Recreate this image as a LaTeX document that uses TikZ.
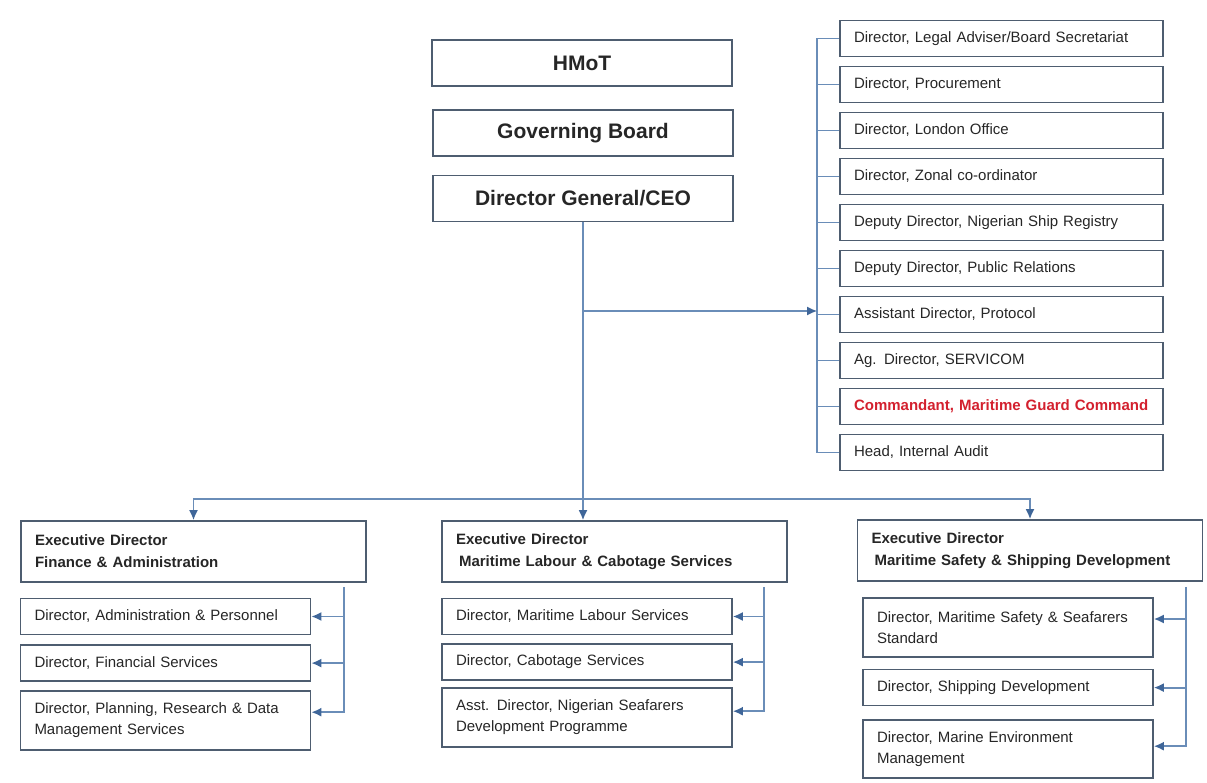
\documentclass[tikz,border=0pt]{standalone}
\usepackage{fontspec}
\setmainfont{Liberation Sans}
\usetikzlibrary{positioning,arrows.meta}
\definecolor{boxedge}{HTML}{4E5D70}
\definecolor{linkblue}{HTML}{6A8DB8}
\definecolor{tipblue}{HTML}{3F6699}
\definecolor{ink}{HTML}{262626}
\definecolor{alertred}{HTML}{D3202E}

\begin{document}
\begin{tikzpicture}[x=1pt, y=-1pt,
			topbox/.style={rectangle, draw=boxedge, line width=1.6pt, minimum width=300pt, minimum height=46pt, text=ink, font=\fontsize{21}{25}\selectfont\bfseries},
			sidebox/.style={rectangle, draw=boxedge, line width=1.6pt, text width=295pt, inner xsep=14pt, inner ysep=0pt, minimum height=36pt, align=left, text=ink, font=\fontsize{15}{21}\selectfont},
			headbox/.style={sidebox, text width=317pt, minimum height=61pt, font=\fontsize{15}{22}\selectfont\bfseries},
			subbox/.style={sidebox, text width=262pt},
			link/.style={draw=linkblue, line width=1.8pt},
			arrowed/.style={-{Latex[length=10pt, width=9pt, color=tipblue]}}]
			\useasboundingbox (0,0) rectangle (1207,783);
			% top of the chart
			\node[topbox] (hmot) at (582,63) {HMoT};
			\node[topbox] (board) at (583,133) {Governing Board};
			\node[topbox] (dg) at (583,198.5) {Director General/CEO};
			% units reporting straight to the DG
			\node[sidebox] (legal) at (1001.5,38.5) {Director, Legal Adviser/Board Secretariat};
			\node[sidebox] (procure) [below=8.4pt of legal] {Director, Procurement};
			\node[sidebox] (london) [below=8.4pt of procure] {Director, London Office};
			\node[sidebox] (zonal) [below=8.4pt of london] {Director, Zonal co-ordinator};
			\node[sidebox] (registry) [below=8.4pt of zonal] {Deputy Director, Nigerian Ship Registry};
			\node[sidebox] (pr) [below=8.4pt of registry] {Deputy Director, Public Relations};
			\node[sidebox] (protocol) [below=8.4pt of pr] {Assistant Director, Protocol};
			\node[sidebox] (servicom) [below=8.4pt of protocol] {Ag. Director, SERVICOM};
			\node[sidebox, text=alertred, font=\fontsize{15}{21}\selectfont\bfseries] (guard) [below=8.4pt of servicom] {Commandant, Maritime Guard Command};
			\node[sidebox] (audit) [below=8.4pt of guard] {Head, Internal Audit};
			% executive directors
			\node[headbox] (fa) at (193.5,551.5) {Executive Director\\Finance \& Administration};
			\node[headbox] (ml) at (614.5,551.5) {Executive Director\\\hspace{3pt}Maritime Labour \& Cabotage Services};
			\node[headbox] (ms) at (1030,550.5) {Executive Director\\\hspace{3pt}Maritime Safety \& Shipping Development};
			% directorates
			\node[subbox] (fa1) at (165.5,616.5) {Director, Administration \& Personnel};
			\node[subbox] (fa2) [below=9pt of fa1] {Director, Financial Services};
			\node[subbox, minimum height=59pt] (fa3) [below=8pt of fa2] {Director, Planning, Research \& Data\\Management Services};
			\node[subbox] (ml1) at (587,616.5) {Director, Maritime Labour Services};
			\node[subbox] (ml2) [below=8pt of ml1] {Director, Cabotage Services};
			\node[subbox, minimum height=59pt] (ml3) [below=6pt of ml2] {Asst. Director, Nigerian Seafarers\\Development Programme};
			\node[subbox, minimum height=59pt] (ms1) at (1008,627.5) {Director, Maritime Safety \& Seafarers\\Standard};
			\node[subbox] (ms2) [below=11pt of ms1] {Director, Shipping Development};
			\node[subbox, minimum height=58pt] (ms3) [below=13pt of ms2] {Director, Marine Environment\\Management};
			% DG to the side units
			\coordinate (sidebus) at ([xshift=-22pt]legal.west);
			\coordinate (sidefeed) at (dg.south |- 0,311);
			\draw[link] (sidebus) -- (sidebus |- audit.west);
			\draw[link] (sidebus) -- (legal.west)
				(sidebus |- procure.west) -- (procure.west)
				(sidebus |- london.west) -- (london.west)
				(sidebus |- zonal.west) -- (zonal.west)
				(sidebus |- registry.west) -- (registry.west)
				(sidebus |- pr.west) -- (pr.west)
				(sidebus |- protocol.west) -- (protocol.west)
				(sidebus |- servicom.west) -- (servicom.west)
				(sidebus |- guard.west) -- (guard.west)
				(sidebus |- audit.west) -- (audit.west);
			\draw[link, arrowed] (sidefeed) -- (sidebus |- sidefeed);
			% DG to the executive directors
			\coordinate (split) at (dg.south |- 0,499);
			\draw[link] (dg.south) -- (split);
			\draw[link, arrowed] (split) -- (split |- ml.north);
			\draw[link, arrowed] (split) -| (fa.north);
			\draw[link, arrowed] (split) -| (ms.north);
			% executive directors to their directorates
			\coordinate (fabus) at ([xshift=-23pt, yshift=-4pt]fa.south east);
			\draw[link, arrowed] (fabus) |- ([yshift=8pt]fa3.east);
			\draw[link, arrowed] (fabus |- fa1.east) -- (fa1.east);
			\draw[link, arrowed] (fabus |- fa2.east) -- (fa2.east);
			\coordinate (mlbus) at ([xshift=-24pt, yshift=-4pt]ml.south east);
			\draw[link, arrowed] (mlbus) |- ([yshift=6pt]ml3.east);
			\draw[link, arrowed] (mlbus |- ml1.east) -- (ml1.east);
			\draw[link, arrowed] (mlbus |- ml2.east) -- (ml2.east);
			\coordinate (msbus) at ([xshift=-17pt, yshift=-5pt]ms.south east);
			\draw[link, arrowed] (msbus) |- ([yshift=3pt]ms3.east);
			\draw[link, arrowed] (msbus |- 0,619) -- ([yshift=8.5pt]ms1.east);
			\draw[link, arrowed] (msbus |- ms2.east) -- (ms2.east);
		\end{tikzpicture}
\end{document}
